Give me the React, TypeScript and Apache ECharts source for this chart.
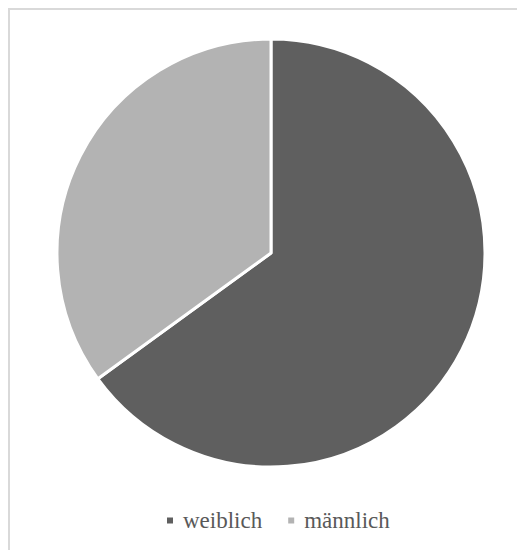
import React, { useEffect, useRef } from "react";
import * as echarts from "echarts";

const categories = ["weiblich", "männlich"];
const values = [65, 35];
const colors = ["#5f5f5f", "#b3b3b3"];

export default function App() {
  const ref = useRef<HTMLDivElement>(null);
  useEffect(() => {
    if (!ref.current) return;
    const chart = echarts.init(ref.current, null, { renderer: "svg" });
    chart.setOption({
      animation: false,
      backgroundColor: "#ffffff",
      color: colors,
      legend: {
        bottom: 13,
        left: 150,
        padding: 5,
        icon: "rect",
        itemWidth: 8,
        itemHeight: 8,
        itemGap: 24,
        textStyle: {
          fontFamily: "Liberation Serif",
          fontSize: 23,
          color: "#595959",
          padding: [0, 0, 0, 4],
        },
        data: categories,
      },
      series: [
        {
          type: "pie",
          center: [261, 243],
          radius: 214,
          startAngle: 90,
          clockwise: true,
          label: { show: false },
          labelLine: { show: false },
          itemStyle: { borderColor: "#ffffff", borderWidth: 3 },
          emphasis: { disabled: true },
          data: categories.map((c, i) => ({ name: c, value: values[i] })),
        },
      ],
    });
    return () => chart.dispose();
  }, []);
  return (
    <div
      style={{
        width: 517,
        height: 542,
        boxSizing: "border-box",
        borderTop: "2px solid #d9d9d9",
        borderLeft: "2px solid #d9d9d9",
        overflow: "hidden",
      }}
    >
      <div ref={ref} style={{ width: 515, height: 540 }} />
    </div>
  );
}
